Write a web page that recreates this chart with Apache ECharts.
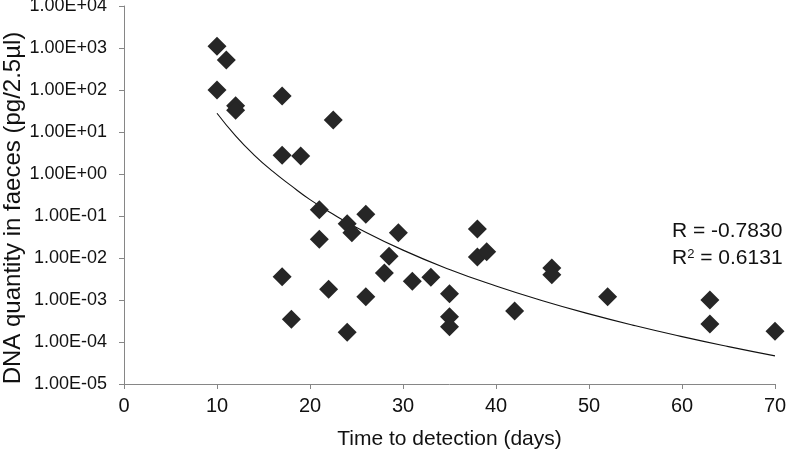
<!DOCTYPE html>
<html>
<head>
<meta charset="utf-8">
<script src="https://cdn.jsdelivr.net/npm/echarts@6/dist/echarts.min.js"></script>
<style>html,body{margin:0;padding:0;background:#fff}#c{width:787px;height:453px}</style>
</head>
<body>
<div id="c"></div>
<script>
// Time to detection (days)
var xValues = [10, 11, 10, 12, 12, 17, 17, 19, 22.5, 21, 26, 24, 24.5, 21, 29.5, 38, 28.5, 38, 39, 28, 17, 31, 33, 22, 26, 35, 18, 24, 35, 35, 42, 46, 46, 52, 63, 63, 70];
// DNA quantity in faeces (pg/2.5µl)
var yValues = [1100, 520, 100, 42, 33, 72, 2.8, 2.7, 19.4, 0.14, 0.11, 0.065, 0.04, 0.028, 0.04, 0.049, 0.011, 0.0105, 0.014, 0.0044, 0.0036, 0.0028, 0.0035, 0.0018, 0.0012, 0.0014, 3.5e-4, 1.7e-4, 4e-4, 2.3e-4, 5.5e-4, 0.0058, 0.004, 0.0012, 0.001, 2.7e-4, 1.8e-4];
// Trend line
var trendX = [10, 12, 14, 16, 18, 20, 22.5, 25, 30, 35, 40, 45, 50, 55, 60, 65, 70];
var trendY = [28, 8.1, 2.83, 1.15, 0.52, 0.246, 0.11, 0.0535, 0.0154, 0.00535, 0.00215, 9.6e-4, 4.67e-4, 2.43e-4, 1.34e-4, 7.76e-5, 4.67e-5];
var xTicks = [0, 10, 20, 30, 40, 50, 60, 70];
var yTickLabels = ['1.00E-05','1.00E-04','1.00E-03','1.00E-02','1.00E-01','1.00E+00','1.00E+01','1.00E+02','1.00E+03','1.00E+04'];
var xTitle = 'Time to detection (days)';
var yTitle = 'DNA quantity in faeces (pg/2.5µl)';
var rText = 'R = -0.7830';
var r2Value = '0.6131';

var points = xValues.map(function (x, i) { return [x, yValues[i]]; });
var trend = trendX.map(function (x, i) { return [x, trendY[i]]; });

var chart = echarts.init(document.getElementById('c'));
var font = 'Liberation Sans, Arial, sans-serif';
chart.setOption({
  animation: false,
  grid: { left: 124, right: 12, top: 6, bottom: 69, containLabel: false, outerBoundsMode: 'none' },
  xAxis: {
    type: 'value', min: xTicks[0], max: xTicks[xTicks.length - 1], interval: 10,
    name: xTitle, nameLocation: 'middle', nameGap: 45,
    nameTextStyle: { fontSize: 21, color: '#111', fontFamily: font },
    axisLine: { lineStyle: { color: '#868686', width: 1 } },
    axisTick: { show: true, length: 5, lineStyle: { color: '#868686' } },
    axisLabel: { fontSize: 20, color: '#111', fontFamily: font, margin: 12 },
    splitLine: { show: false }
  },
  yAxis: {
    type: 'log', logBase: 10, min: 1e-5, max: 1e4, interval: 1, splitNumber: 9,
    axisLine: { show: true, lineStyle: { color: '#868686', width: 1 } },
    axisTick: { show: true, length: 5, lineStyle: { color: '#868686' } },
    axisLabel: {
      fontSize: 18, color: '#111', fontFamily: font, margin: 17,
      formatter: function (v) {
        var e = Math.round(Math.log10(v));
        return yTickLabels[e + 5] || '';
      }
    },
    splitLine: { show: false }
  },
  series: [
    {
      type: 'line', data: trend, smooth: true, showSymbol: false, symbol: 'none',
      lineStyle: { color: '#111', width: 1.1 }, z: 1
    },
    {
      type: 'scatter', data: points, symbol: 'diamond', symbolSize: 19,
      itemStyle: { color: '#262626', opacity: 1 }, z: 2
    }
  ],
  graphic: [
    { type: 'text', x: 13, y: 208, rotation: Math.PI / 2,
      style: { text: yTitle, fontSize: 24, fill: '#111', fontFamily: font, align: 'center', verticalAlign: 'middle' } },
    { type: 'text', left: 672, top: 221, style: { text: rText, fontSize: 21, fill: '#111', fontFamily: font } },
    { type: 'text', left: 672, top: 248, style: {
        text: '{a|R}{s|2}{a| = ' + r2Value + '}',
        rich: { a: { fontSize: 21, fill: '#111', fontFamily: font }, s: { fontSize: 13, fill: '#111', fontFamily: font, verticalAlign: 'top', padding: [0,0,8,0] } },
        fontSize: 21, fill: '#111', fontFamily: font } }
  ]
});
</script>
</body>
</html>
